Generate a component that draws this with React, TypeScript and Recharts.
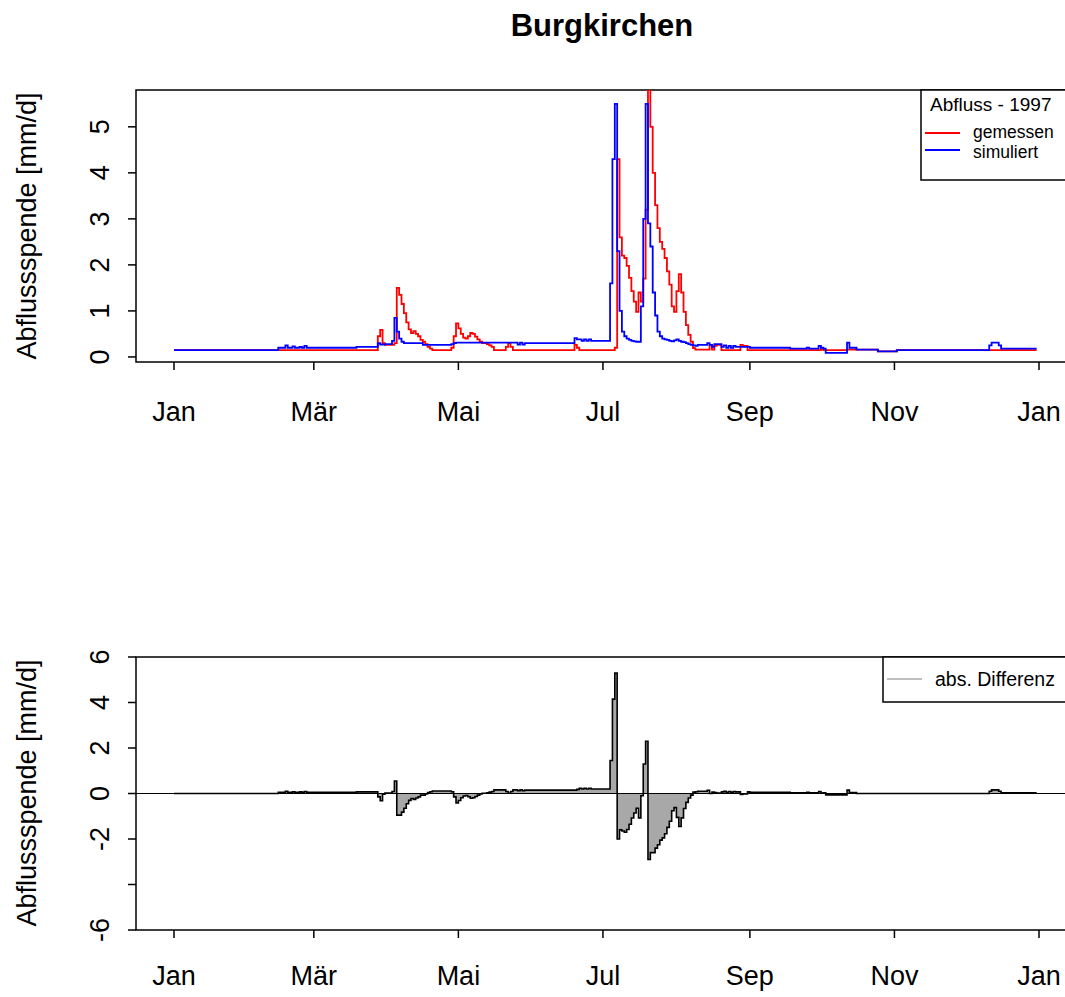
import React from 'react';
import {
  ComposedChart,
  Line,
  Area,
  XAxis,
  YAxis,
  ReferenceLine,
  ReferenceArea,
} from 'recharts';

const FONT = '"Liberation Sans", Arial, Helvetica, sans-serif';

// Abflussspende 1997 in mm/d, daily values stored as [value, number of days]
const gemessenRuns: [number, number][] = [
  [0.15, 86], [0.45, 1], [0.59, 1], [0.3, 1], [0.26, 4],
  [0.3, 1], [1.5, 1], [1.35, 1], [1.15, 1], [0.95, 1], [0.75, 1], [0.6, 1], [0.52, 1],
  [0.56, 1], [0.5, 1], [0.45, 1], [0.37, 1], [0.33, 1], [0.28, 1], [0.22, 1], [0.18, 1],
  [0.15, 8],
  [0.2, 1], [0.45, 1], [0.73, 1], [0.62, 1], [0.5, 1], [0.42, 1], [0.4, 1], [0.45, 1],
  [0.52, 1], [0.5, 1], [0.44, 1], [0.38, 1], [0.33, 1],
  [0.3, 2], [0.28, 1], [0.25, 1], [0.22, 1],
  [0.15, 5], [0.22, 1], [0.3, 1], [0.22, 1],
  [0.15, 26], [0.26, 1], [0.2, 1], [0.15, 15],
  // Juli / August
  [0.2, 1], [4.3, 1], [2.6, 1], [2.2, 1], [2.15, 1], [1.98, 1], [1.72, 1], [1.43, 1],
  [1.2, 1], [0.98, 1], [1.4, 1], [1.2, 1], [1.7, 1], [3.2, 1], [5.8, 1], [5.0, 1],
  [4.0, 1], [3.3, 1], [2.8, 1], [2.5, 1], [2.35, 1], [2.15, 1], [1.86, 1], [1.57, 1],
  [1.1, 1], [0.98, 1], [1.43, 1], [1.8, 1], [1.4, 1], [0.98, 1], [0.69, 1], [0.48, 1],
  [0.33, 1], [0.19, 1],
  [0.16, 6], [0.26, 1], [0.16, 1], [0.24, 1], [0.26, 2], [0.15, 8], [0.26, 1], [0.24, 2],
  [0.15, 31], [0.18, 1], [0.15, 10], [0.16, 13], [0.12, 8], [0.15, 60],
];

const simuliertRuns: [number, number][] = [
  [0.15, 44], [0.2, 3], [0.25, 1], [0.2, 2], [0.23, 1], [0.2, 2], [0.22, 1], [0.2, 1],
  [0.24, 1], [0.2, 21], [0.22, 9], [0.3, 1], [0.27, 2], [0.28, 3],
  [0.35, 1], [0.85, 1], [0.55, 1], [0.4, 1], [0.33, 1], [0.3, 8], [0.26, 12],
  [0.28, 1], [0.3, 1], [0.31, 26], [0.27, 1], [0.31, 1], [0.27, 1], [0.3, 21],
  [0.41, 1], [0.38, 2], [0.35, 1], [0.38, 1], [0.35, 1], [0.38, 1], [0.35, 8],
  // Juli / August
  [1.6, 1], [4.3, 1], [5.5, 1], [2.3, 1], [1.0, 1], [0.55, 1], [0.45, 1], [0.4, 1],
  [0.37, 1], [0.35, 1], [0.34, 1], [0.33, 2], [1.1, 1], [3.0, 1], [5.5, 1], [2.9, 1],
  [2.4, 1], [1.4, 1], [0.9, 1], [0.55, 1], [0.45, 1], [0.4, 1], [0.38, 1], [0.37, 1],
  [0.35, 1], [0.34, 1], [0.36, 1], [0.38, 1], [0.35, 1], [0.33, 1], [0.32, 1], [0.3, 1],
  [0.28, 1], [0.26, 1], [0.25, 1],
  [0.24, 1], [0.26, 4], [0.3, 1], [0.26, 1], [0.22, 1], [0.28, 3], [0.22, 1], [0.25, 1],
  [0.2, 1], [0.24, 1], [0.2, 1], [0.24, 1], [0.22, 6], [0.2, 17], [0.18, 7], [0.2, 1],
  [0.18, 4], [0.24, 1], [0.2, 1], [0.18, 1], [0.09, 9], [0.31, 1], [0.2, 3], [0.16, 9],
  [0.12, 8], [0.15, 39], [0.25, 1], [0.31, 3], [0.25, 1], [0.18, 16],
];

const monthTicks = [0, 59, 120, 181, 243, 304, 365];
const monthLabels = ['Jan', 'Mär', 'Mai', 'Jul', 'Sep', 'Nov', 'Jan'];
const abflussTicks = [0, 1, 2, 3, 4, 5];
const diffTicks = [-6, -4, -2, 0, 2, 4, 6];
const diffTickLabels = ['-6', '', '-2', '0', '2', '4', '6'];

const X_MIN = -16.035;
const X_MAX = 380;
const TOP_Y: [number, number] = [-0.11, 5.8];
const DIFF_Y: [number, number] = [-6, 6];

const expand = (runs: [number, number][]) =>
  runs.flatMap(([v, n]) => Array.from({ length: n }, () => v));

const gemessen = expand(gemessenRuns);
const simuliert = expand(simuliertRuns);

const abfluss = gemessen.map((g, i) => ({ day: i, gemessen: g, simuliert: simuliert[i] }));
const differenz = gemessen.map((g, i) => ({
  day: i,
  diff: Math.round((simuliert[i] - g) * 100) / 100,
}));

const MonthTick = ({ x, y, payload, dy }: any) => (
  <text x={x} y={y + dy} textAnchor="middle" fontSize={27} fontFamily={FONT} fill="#000">
    {monthLabels[monthTicks.indexOf(payload.value)]}
  </text>
);

const ValueTick = ({ x, y, payload, labels, ticks }: any) => {
  const bx = x - 19;
  const i = ticks.indexOf(payload.value);
  return (
    <text
      x={bx}
      y={y}
      transform={`rotate(-90 ${bx} ${y})`}
      textAnchor="middle"
      fontSize={27}
      fontFamily={FONT}
      fill="#000"
    >
      {labels ? labels[i] : String(payload.value)}
    </text>
  );
};

const tickLine = { stroke: '#000', strokeWidth: 1.5 };

const App: React.FC = () => {
  return (
    <div
      style={{
        position: 'absolute',
        left: 0,
        top: 0,
        width: 1065,
        height: 997,
        overflow: 'hidden',
        background: '#fff',
      }}
    >
      {/* Abfluss gemessen / simuliert */}
      <div style={{ position: 'absolute', left: 0, top: 0 }}>
        <ComposedChart
          width={1080}
          height={440}
          data={abfluss}
          margin={{ top: 90, right: 5.45, bottom: 8, left: 90 }}
        >
          <XAxis
            dataKey="day"
            type="number"
            domain={[X_MIN, X_MAX]}
            allowDataOverflow
            ticks={monthTicks}
            interval={0}
            height={70}
            axisLine={false}
            tickLine={tickLine}
            tickSize={8}
            tickMargin={0}
            tick={(p: any) => <MonthTick {...p} dy={51} />}
          />
          <YAxis
            type="number"
            domain={TOP_Y}
            allowDataOverflow
            ticks={abflussTicks}
            interval={0}
            width={46}
            axisLine={false}
            tickLine={tickLine}
            tickSize={8}
            tickMargin={0}
            tick={(p: any) => <ValueTick {...p} ticks={abflussTicks} />}
          />
          <Line
            type="stepAfter"
            dataKey="gemessen"
            stroke="#ff0000"
            strokeWidth={1.8}
            dot={false}
            activeDot={false}
            isAnimationActive={false}
          />
          <Line
            type="stepAfter"
            dataKey="simuliert"
            stroke="#0000ff"
            strokeWidth={1.8}
            dot={false}
            activeDot={false}
            isAnimationActive={false}
          />
          <ReferenceArea
            x1={X_MIN}
            x2={X_MAX}
            y1={TOP_Y[0]}
            y2={TOP_Y[1]}
            fill="none"
            stroke="#000"
            strokeWidth={1.5}
            ifOverflow="visible"
          />
        </ComposedChart>
      </div>

      {/* Differenz simuliert - gemessen */}
      <div style={{ position: 'absolute', left: 0, top: 560 }}>
        <ComposedChart
          width={1080}
          height={440}
          data={differenz}
          margin={{ top: 97, right: 5.45, bottom: 8, left: 90 }}
        >
          <XAxis
            dataKey="day"
            type="number"
            domain={[X_MIN, X_MAX]}
            allowDataOverflow
            ticks={monthTicks}
            interval={0}
            height={62}
            axisLine={false}
            tickLine={tickLine}
            tickSize={8}
            tickMargin={0}
            tick={(p: any) => <MonthTick {...p} dy={47} />}
          />
          <YAxis
            type="number"
            domain={DIFF_Y}
            allowDataOverflow
            ticks={diffTicks}
            interval={0}
            width={46}
            axisLine={false}
            tickLine={tickLine}
            tickSize={8}
            tickMargin={0}
            tick={(p: any) => <ValueTick {...p} ticks={diffTicks} labels={diffTickLabels} />}
          />
          <Area
            type="stepAfter"
            dataKey="diff"
            baseValue={0}
            stroke="#000"
            strokeWidth={1.6}
            fill="#a8a8a8"
            fillOpacity={1}
            dot={false}
            activeDot={false}
            isAnimationActive={false}
          />
          <ReferenceLine y={0} stroke="#000" strokeWidth={1.2} />
          <ReferenceArea
            x1={X_MIN}
            x2={X_MAX}
            y1={DIFF_Y[0]}
            y2={DIFF_Y[1]}
            fill="none"
            stroke="#000"
            strokeWidth={1.5}
            ifOverflow="visible"
          />
        </ComposedChart>
      </div>

      {/* Titel, Achsentitel, Legenden */}
      <svg
        width={1065}
        height={997}
        style={{ position: 'absolute', left: 0, top: 0, pointerEvents: 'none' }}
        fontFamily={FONT}
      >
        <text x={602} y={36} textAnchor="middle" fontSize={31} fontWeight="bold" fill="#000">
          Burgkirchen
        </text>

        <text x={36} y={226} transform="rotate(-90 36 226)" textAnchor="middle" fontSize={27} fill="#000">
          Abflussspende [mm/d]
        </text>
        <text x={36} y={793} transform="rotate(-90 36 793)" textAnchor="middle" fontSize={27} fill="#000">
          Abflussspende [mm/d]
        </text>

        <rect x={921} y={90} width={200} height={90} fill="#fff" stroke="#000" strokeWidth={1.5} />
        <text x={930} y={111} fontSize={19} fill="#000">Abfluss - 1997</text>
        <line x1={925} x2={960} y1={133} y2={133} stroke="#ff0000" strokeWidth={1.8} />
        <text x={973} y={138} fontSize={17.5} fill="#000">gemessen</text>
        <line x1={925} x2={960} y1={150} y2={150} stroke="#0000ff" strokeWidth={1.8} />
        <text x={973} y={157.5} fontSize={17.5} fill="#000">simuliert</text>

        <rect x={883} y={657} width={200} height={45} fill="#fff" stroke="#000" strokeWidth={1.5} />
        <line x1={887} x2={922} y1={679} y2={679} stroke="#aaaaaa" strokeWidth={1.5} />
        <text x={935} y={686} fontSize={19.5} fill="#000">abs. Differenz</text>
      </svg>
    </div>
  );
};

export default App;
